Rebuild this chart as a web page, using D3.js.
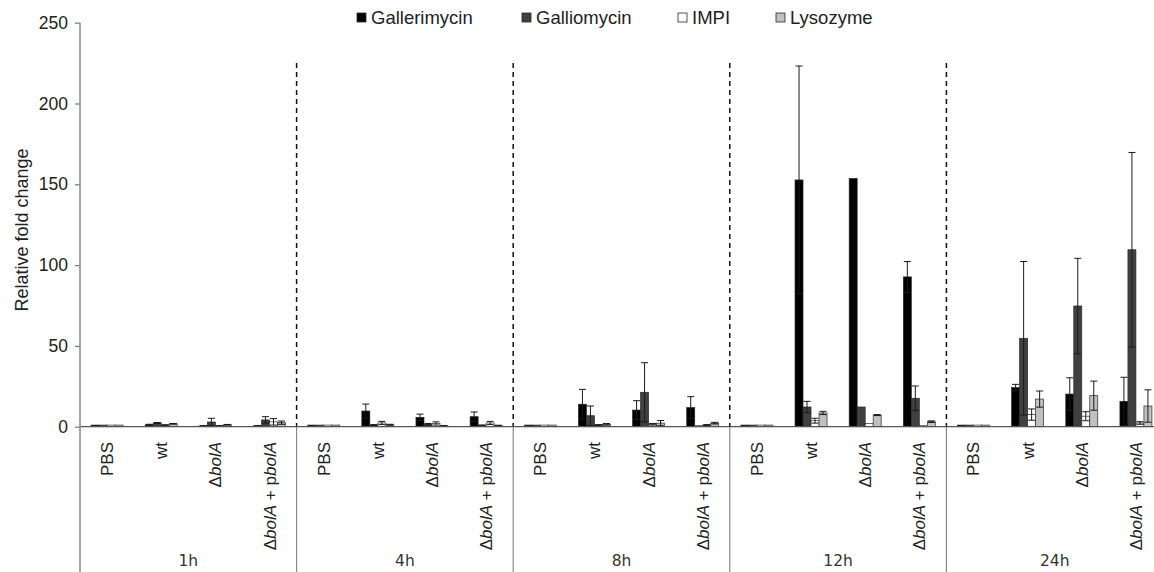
<!DOCTYPE html>
<html>
<head>
<meta charset="utf-8">
<script src="https://cdn.jsdelivr.net/npm/d3@7"></script>
<style>
  html, body { margin: 0; padding: 0; background: #fff; }
  svg { display: block; }
</style>
</head>
<body>
<svg id="chart" width="1154" height="572"></svg>
<script>
// ---------- DATA ----------
const timepoints = ["1h", "4h", "8h", "12h", "24h"];
const strains = ["PBS", "wt", "ΔbolA", "ΔbolA + pbolA"];
const seriesNames = ["Gallerimycin", "Galliomycin", "IMPI", "Lysozyme"];
const yTicks = [0, 50, 100, 150, 200, 250];

// values ordered time-major: 1h(PBS, wt, ΔbolA, ΔbolA+pbolA), 4h(...), ...
const gallerimycin    = [1, 1.2, 0.5, 0.5,   1, 9.7, 5.8, 6.2,   1, 13.9, 10.3, 11.8,   1, 152.7, 153.6, 92.7,   1, 24.2, 20.2, 15.7];
const gallerimycinErr = [0, 0.3, 0.2, 0.2,   0, 4.3, 2.0, 2.9,   0, 9.2, 5.8, 6.8,      0, 70.5, 0, 9.5,         0, 2.0, 10.1, 14.9];
const galliomycin     = [1, 2.3, 2.9, 4.2,   1, 1.0, 1.5, 0.8,   1, 6.8, 21.3, 0.3,     1, 12.2, 12.2, 17.6,     1, 54.7, 74.7, 109.5];
const galliomycinErr  = [0, 0.3, 2.3, 2.0,   0, 0.3, 0.5, 0.3,   0, 6.0, 18.3, 0.1,     0, 3.5, 0, 7.6,          0, 47.5, 29.5, 60.2];
const impi            = [1, 1.0, 0.5, 3.0,   1, 2.3, 2.0, 2.3,   1, 1.0, 1.5, 1.0,      1, 3.7, 1.9, 0.3,        1, 7.5, 6.5, 2.3];
const impiErr         = [0, 0.2, 0.2, 2.0,   0, 1.0, 1.0, 1.0,   0, 0.3, 0.5, 0.3,      0, 1.5, 0, 0.1,          0, 3.5, 2.8, 0.8];
const lysozyme        = [1, 1.8, 1.2, 2.5,   1, 1.2, 0.5, 0.7,   1, 1.5, 2.2, 2.2,      1, 8.5, 7.2, 3.1,        1, 17.1, 19.2, 12.8];
const lysozymeErr     = [0, 0.2, 0.2, 1.0,   0, 0.3, 0.2, 0.2,   0, 0.5, 1.6, 0.5,      0, 1.0, 0.3, 0.5,        0, 5.0, 9.0, 10.0];

const seriesValues = [gallerimycin, galliomycin, impi, lysozyme];
const seriesErrors = [gallerimycinErr, galliomycinErr, impiErr, lysozymeErr];
const seriesColors = ["#000000", "#404040", "#ffffff", "#c0c0c0"];

// ---------- LAYOUT ----------
const svg = d3.select("#chart");
const W = 1154, H = 572;
const plotLeft = 80, plotRight = 1163, plotTop = 22.7, plotBottom = 426.7;
const barW = 8;
const fontMain = "'Liberation Sans', Arial, sans-serif";

const x0 = d3.scaleBand().domain(timepoints).range([plotLeft, plotRight]);
const x1 = d3.scaleBand().domain(strains).range([0, x0.bandwidth()]);
const innerW = barW * seriesNames.length;
const x2 = d3.scaleBand().domain(seriesNames)
  .range([(x1.bandwidth() - innerW) / 2, (x1.bandwidth() + innerW) / 2]);
const y = d3.scaleLinear().domain([0, 250]).range([plotBottom, plotTop]);

// rows
const rows = [];
timepoints.forEach((t, ti) => strains.forEach((s, si) => {
  const idx = ti * strains.length + si;
  seriesNames.forEach((n, ni) => {
    rows.push({ t, s, n, ni, v: seriesValues[ni][idx], e: seriesErrors[ni][idx] });
  });
}));

// dashed separators between time groups (above axis)
const boundaries = timepoints.slice(1).map(t => x0(t));
svg.append("g").selectAll("line").data(boundaries).join("line")
  .attr("x1", d => d).attr("x2", d => d)
  .attr("y1", 63).attr("y2", plotBottom)
  .attr("stroke", "#111").attr("stroke-width", 1.5)
  .attr("stroke-dasharray", "5,4");

// solid separators below axis
svg.append("g").selectAll("line").data(boundaries).join("line")
  .attr("x1", d => d).attr("x2", d => d)
  .attr("y1", plotBottom).attr("y2", H)
  .attr("stroke", "#8a8a8a").attr("stroke-width", 1.2);

// bars
const barG = svg.append("g");
barG.selectAll("rect").data(rows).join("rect")
  .attr("x", d => x0(d.t) + x1(d.s) + x2(d.n))
  .attr("width", x2.bandwidth())
  .attr("y", d => y(d.v))
  .attr("height", d => y(0) - y(d.v))
  .attr("fill", d => seriesColors[d.ni])
  .attr("stroke", "#2a2a2a")
  .attr("stroke-width", 0.7);

// error bars
const errRows = rows.filter(d => d.e > 0);
const errG = svg.append("g").attr("stroke", "#1a1a1a").attr("stroke-width", 1);
const cx = d => x0(d.t) + x1(d.s) + x2(d.n) + x2.bandwidth() / 2;
errG.selectAll("line.v").data(errRows).join("line").attr("class", "v")
  .attr("x1", cx).attr("x2", cx)
  .attr("y1", d => y(Math.max(0, d.v - d.e))).attr("y2", d => y(d.v + d.e));
errG.selectAll("line.top").data(errRows).join("line").attr("class", "top")
  .attr("x1", d => cx(d) - 3.5).attr("x2", d => cx(d) + 3.5)
  .attr("y1", d => y(d.v + d.e)).attr("y2", d => y(d.v + d.e));
errG.selectAll("line.bot").data(errRows.filter(d => d.v - d.e > 0)).join("line").attr("class", "bot")
  .attr("x1", d => cx(d) - 3.5).attr("x2", d => cx(d) + 3.5)
  .attr("y1", d => y(d.v - d.e)).attr("y2", d => y(d.v - d.e));

// x baseline
svg.append("line")
  .attr("x1", plotLeft).attr("x2", W)
  .attr("y1", plotBottom).attr("y2", plotBottom)
  .attr("stroke", "#555").attr("stroke-width", 1.2);

// y axis
const yAxis = d3.axisLeft(y).tickValues(yTicks).tickSize(5).tickPadding(7).tickSizeOuter(0);
const yg = svg.append("g").attr("transform", `translate(${plotLeft},0)`).call(yAxis);
yg.select(".domain").remove();
yg.selectAll(".tick line").attr("stroke", "#777").attr("stroke-width", 1.2);
yg.selectAll(".tick text").attr("font-family", fontMain).attr("font-size", 17.5).attr("fill", "#222");
svg.append("line")
  .attr("x1", plotLeft).attr("x2", plotLeft)
  .attr("y1", plotTop).attr("y2", H)
  .attr("stroke", "#8a8a8a").attr("stroke-width", 1.5);

// y title
svg.append("text")
  .attr("transform", "translate(28,230) rotate(-90)")
  .attr("text-anchor", "middle")
  .attr("font-family", fontMain).attr("font-size", 18).attr("fill", "#222")
  .text("Relative fold change");

// category labels (rotated)
const catRows = [];
timepoints.forEach(t => strains.forEach(s => catRows.push({ t, s })));
const catG = svg.append("g").attr("font-family", fontMain).attr("font-size", 17).attr("fill", "#222");
const catText = catG.selectAll("text").data(catRows).join("text")
  .attr("transform", d => `translate(${x0(d.t) + x1(d.s) + x1.bandwidth() / 2 + 6},442) rotate(-90)`)
  .attr("text-anchor", "end");
catText.each(function (d) {
  const el = d3.select(this);
  // split into upright/italic parts: "bolA" is italic
  const parts = d.s.split(/(bolA)/).filter(p => p.length);
  parts.forEach(p => {
    el.append("tspan").attr("font-style", p === "bolA" ? "italic" : "normal").text(p);
  });
});

// time-point labels
svg.append("g").selectAll("text").data(timepoints).join("text")
  .attr("x", d => x0(d) + x0.bandwidth() / 2)
  .attr("y", 566)
  .attr("text-anchor", "middle")
  .attr("font-family", "'DejaVu Sans', sans-serif").attr("font-size", 15.5).attr("fill", "#333")
  .text(d => d);

// legend
const legendX = [357, 522, 678, 776];
const lg = svg.append("g").selectAll("g").data(seriesNames).join("g")
  .attr("transform", (d, i) => `translate(${legendX[i]},13)`);
lg.append("rect").attr("width", 9).attr("height", 9)
  .attr("fill", (d, i) => seriesColors[i])
  .attr("stroke", "#2a2a2a").attr("stroke-width", 0.8);
lg.append("text").attr("x", 14).attr("y", 10.5)
  .attr("font-family", fontMain).attr("font-size", 18.5).attr("fill", "#222")
  .text(d => d);
</script>
</body>
</html>
